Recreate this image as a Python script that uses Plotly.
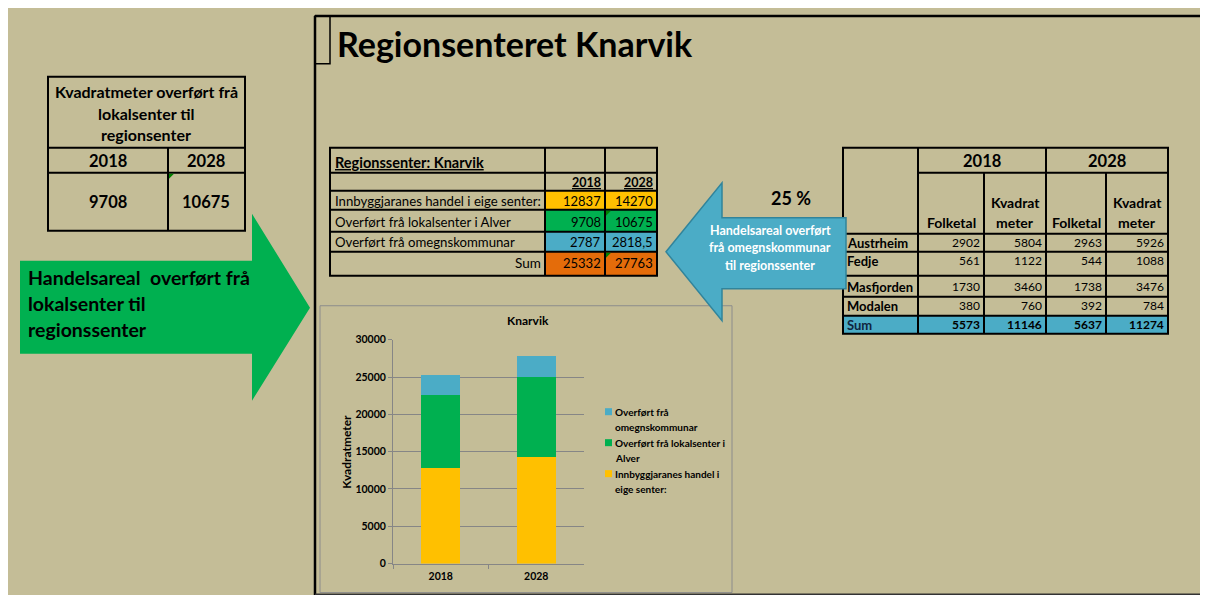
import plotly.graph_objects as go

# ---------------- data ----------------
years = ["2018", "2028"]
series_names = ["Innbyggjaranes handel i eige senter:",
                "Overført frå lokalsenter i Alver",
                "Overført frå omegnskommunar"]
legend_lines = [["Innbyggjaranes handel i", "eige senter:"],
                ["Overført frå lokalsenter i", "Alver"],
                ["Overført frå", "omegnskommunar"]]
handel_eige = [12837, 14270]
overfort_lokal = [9708, 10675]
overfort_omegn = [2787, 2818.5]
omegn_labels = ["2787", "2818,5"]
sum_labels = ["25332", "27763"]
y_ticks = [0, 5000, 10000, 15000, 20000, 25000, 30000]
y_tick_labels = ["0", "5000", "10000", "15000", "20000", "25000", "30000"]

kommunar = ["Austrheim", "Fedje", "Masfjorden", "Modalen"]
folketal_2018 = [2902, 561, 1730, 380]
kvm_2018 = [5804, 1122, 3460, 760]
folketal_2028 = [2963, 544, 1738, 392]
kvm_2028 = [5926, 1088, 3476, 784]
share_pct = 25

# ---------------- style ----------------
PW, PH = 1208, 595          # page size
OFF = 8                     # browser body margin
W, H = PW - OFF, PH - OFF   # figure size
# page-pixel span actually covered by the overlay axes (measured)
TOP_PX, BOT_PX = 13.1, 588.4
TAN = "#C4BD97"
YEL = "#FFC000"
GRN = "#00B050"
BLU = "#4BACC6"
ORG = "#E46C0A"
FONT = "Lato"
GRID = "#868686"

shapes = []
annos = []


def fx(p):
    return (p - OFF) / W


def fy(p):
    return (BOT_PX - p) / (BOT_PX - TOP_PX)


def rect(x0, y0, x1, y1, fill=None, line="black", lw=0):
    shapes.append(dict(type="rect", xref="x2", yref="y2", x0=x0, y0=y0, x1=x1, y1=y1,
                       fillcolor=fill if fill else "rgba(0,0,0,0)",
                       line=dict(color=line, width=lw), layer="below"))


def seg(x0, y0, x1, y1, lw=2, color="black"):
    shapes.append(dict(type="line", xref="x2", yref="y2", x0=x0, y0=y0, x1=x1, y1=y1,
                       line=dict(color=color, width=lw), layer="below"))


def pseg(x0, y0, x1, y1, lw=2, color="black"):
    # unclipped frame line (paper coordinates)
    shapes.append(dict(type="line", xref="paper", yref="paper", x0=fx(x0), y0=fy(y0),
                       x1=fx(x1), y1=fy(y1), line=dict(color=color, width=lw), layer="below"))


def path(pts, fill, line=None, lw=0):
    d = "M " + " L ".join(f"{x} {y}" for x, y in pts) + " Z"
    shapes.append(dict(type="path", xref="x2", yref="y2", path=d, fillcolor=fill,
                       line=dict(color=line if line else fill, width=lw), layer="below"))


def text(x, y, s, size=13, bold=False, color="black", anchor="left", angle=0):
    annos.append(dict(xref="x2", yref="y2", x=x, y=y, text=s, showarrow=False,
                      xanchor=anchor, yanchor="middle", textangle=angle,
                      font=dict(family=FONT, size=size, color=color,
                                weight="bold" if bold else "normal")))


def tri(x, y):
    path([(x, y), (x + 5, y), (x, y + 5)], "#008000")


# background strips & frame
rect(0, 0, PW, 10, fill="white")
pseg(315, 15, PW, 15, lw=2.5)
pseg(315, 15, 315, PH, lw=2.5)
pseg(315, 594, PW, 594, lw=2, color="#333333")
rect(315, 15, 330, 63, line="black", lw=1.5)
text(335, 43, "Regionsenteret Knarvik", size=34, bold=True)

# ---------- left table ----------
rect(48, 76, 245, 230, line="black", lw=2)
seg(48, 147, 245, 147)
seg(48, 172, 245, 172)
seg(168, 147, 168, 230)
for i, ln in enumerate(["Kvadratmeter overført frå", "lokalsenter til", "regionsenter"]):
    text(146, 91 + i * 21.5, ln, size=16, bold=True, anchor="center")
text(108, 160, years[0], size=16.5, bold=True, anchor="center")
text(206, 160, years[1], size=16.5, bold=True, anchor="center")
text(108, 201, str(overfort_lokal[0]), size=16.5, bold=True, anchor="center")
text(206, 201, str(overfort_lokal[1]), size=16.5, bold=True, anchor="center")
tri(169, 173)

# green arrow
path([(20, 260), (252, 260), (252, 213), (310, 307), (252, 400), (252, 353), (20, 353)], GRN)
for i, ln in enumerate(["Handelsareal  overført frå", "lokalsenter til", "regionssenter"]):
    text(26, 277 + i * 26, ln, size=19.5, bold=True)

# ---------- middle table ----------
cm = [330, 545, 605, 657]
rm = [147, 172, 190, 209, 231, 251, 275]
row_fill = [YEL, GRN, BLU, ORG]
for k, col in enumerate(row_fill):
    rect(cm[1], rm[2 + k], cm[3], rm[3 + k], fill=col)
rect(cm[0], rm[0], cm[3], rm[-1], line="black", lw=2)
for y in rm[1:-1]:
    seg(cm[0], y, cm[3], y)
for x in cm[1:3]:
    seg(x, rm[0], x, rm[-1])
text(333, 162, "<u>Regionssenter: Knarvik</u>", size=14.5, bold=True)
text(cm[2] - 2, 182, f"<u>{years[0]}</u>", size=12.5, bold=True, anchor="right")
text(cm[3] - 2, 182, f"<u>{years[1]}</u>", size=12.5, bold=True, anchor="right")
mid_rows = [
    (series_names[0], [str(v) for v in handel_eige], 200),
    (series_names[1], [str(v) for v in overfort_lokal], 221),
    (series_names[2], omegn_labels, 241),
]
for lab, vals, y in mid_rows:
    text(333, y, lab, size=13.2)
    text(cm[2] - 2, y, vals[0], size=13, anchor="right")
    text(cm[3] - 2, y, vals[1], size=13, anchor="right")
text(cm[1] - 2, 262, "Sum", size=13.5, anchor="right")
text(cm[2] - 2, 262, sum_labels[0], size=13, anchor="right")
text(cm[3] - 2, 262, sum_labels[1], size=13, anchor="right")
tri(606, 210)
tri(606, 252)

# ---------- right table ----------
cr = [843, 918, 984, 1046, 1106, 1168]
rr = [147, 172, 233, 251, 275, 296, 315, 333]
rect(cr[0], rr[6], cr[5], rr[7], fill=BLU)
rect(cr[0], rr[0], cr[5], rr[-1], line="black", lw=2)
seg(cr[1], rr[1], cr[5], rr[1])
for y in rr[2:-1]:
    seg(cr[0], y, cr[5], y)
seg(cr[1], rr[0], cr[1], rr[-1])
seg(cr[3], rr[0], cr[3], rr[-1])
seg(cr[2], rr[1], cr[2], rr[-1])
seg(cr[4], rr[1], cr[4], rr[-1])
text((cr[1] + cr[3]) / 2, 160, years[0], size=16.5, bold=True, anchor="center")
text((cr[3] + cr[5]) / 2, 160, years[1], size=16.5, bold=True, anchor="center")
for a, b in [(cr[1], cr[2]), (cr[3], cr[4])]:
    text((a + b) / 2, 222, "Folketal", size=14, bold=True, anchor="center")
for a, b in [(cr[2], cr[3]), (cr[4], cr[5])]:
    text((a + b) / 2, 202, "Kvadrat", size=14, bold=True, anchor="center")
    text((a + b) / 2, 222, "meter", size=14, bold=True, anchor="center")
row_y = [242, 260, 286, 305]
cols_vals = [folketal_2018, kvm_2018, folketal_2028, kvm_2028]
for i, name in enumerate(kommunar):
    text(845, row_y[i], name, size=13, bold=True)
    for j, vals in enumerate(cols_vals):
        text(cr[j + 2] - 2, row_y[i], str(vals[i]), size=12, anchor="right")
text(845, 324, "Sum", size=13, bold=True, color="#10253F")
for j, vals in enumerate(cols_vals):
    text(cr[j + 2] - 2, 324, str(sum(vals)), size=12, bold=True, anchor="right")

# chart box (unclipped)
pseg(320, 305, 732, 305, lw=1, color="#8C8C8C")
pseg(320, 305, 320, 592, lw=1, color="#8C8C8C")
pseg(732, 305, 732, 592, lw=1, color="#8C8C8C")
pseg(320, 592, 732, 592, lw=1, color="#8C8C8C")

# blue arrow
path([(666, 251), (722, 182), (722, 217), (846, 217), (846, 288), (722, 288), (722, 320)],
     BLU, line="#31849B", lw=1.5)
for i, ln in enumerate(["Handelsareal overført", "frå omegnskommunar", "til regionssenter"]):
    text(770, 229.5 + i * 17.5, ln, size=12.5, bold=True, color="white", anchor="center")
text(791, 197, f"{share_pct} %", size=18, bold=True, anchor="center")

# ---------- bar chart ----------
text(528, 320, "Knarvik", size=12, bold=True, anchor="center")
text(347, 451, "Kvadratmeter", size=12, bold=True, anchor="center", angle=-90)
bar_series = [(handel_eige, YEL), (overfort_lokal, GRN), (overfort_omegn, BLU)]

fig = go.Figure()
for (vals, col), name in zip(bar_series, series_names):
    fig.add_trace(go.Bar(x=years, y=vals, name=name, marker=dict(color=col, line=dict(width=0)),
                         showlegend=False, xaxis="x", yaxis="y"))
fig.add_trace(go.Scatter(x=[None], y=[None], xaxis="x2", yaxis="y2", showlegend=False,
                         hoverinfo="skip"))

# manual legend (reversed order, as in the chart)
leg_y = [411, 442, 473]
for k, idx in enumerate([2, 1, 0]):
    y = leg_y[k]
    rect(605, y - 3.5, 612, y + 3.5, fill=bar_series[idx][1])
    for li, ln in enumerate(legend_lines[idx]):
        text(613, y + li * 15, ln, size=10, bold=True)

fig.update_layout(
    width=W, height=H, margin=dict(l=0, r=0, t=0, b=0, pad=0), autosize=False,
    paper_bgcolor=TAN, plot_bgcolor="rgba(0,0,0,0)",
    barmode="stack", bargap=0.59,
    shapes=shapes, annotations=annos, showlegend=False,
    xaxis=dict(domain=[fx(393), fx(584)], anchor="y", type="category",
               showline=True, linecolor=GRID, linewidth=1, ticks="outside",
               tickson="boundaries", ticklen=4, tickcolor=GRID, showgrid=False,
               ticklabelstandoff=3,
               tickfont=dict(family=FONT, size=10.5, color="black", weight="bold"),
               fixedrange=True),
    yaxis=dict(domain=[fy(563), fy(339)], anchor="x", range=[0, 30000],
               tickvals=y_ticks, ticktext=y_tick_labels, showgrid=True, gridcolor=GRID,
               gridwidth=1, showline=True, linecolor=GRID, ticks="outside", ticklen=4,
               tickcolor=GRID, zeroline=False,
               tickfont=dict(family=FONT, size=10.5, color="black", weight="bold"),
               fixedrange=True),
    xaxis2=dict(domain=[0, 1], anchor="y2", range=[OFF, PW], visible=False, fixedrange=True),
    yaxis2=dict(domain=[0, 1], anchor="x2", range=[BOT_PX, TOP_PX], visible=False,
                fixedrange=True),
)

fig.write_html("out.html")
